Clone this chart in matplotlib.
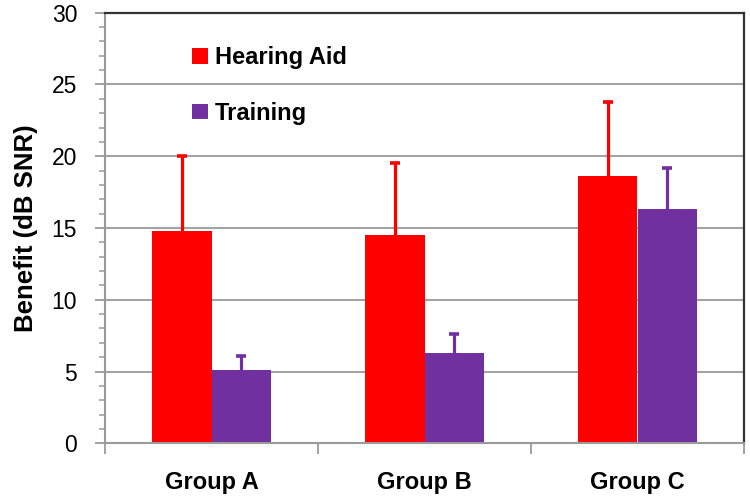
import matplotlib
matplotlib.use("Agg")
import matplotlib.pyplot as plt
import numpy as np
from matplotlib.patches import Patch
from matplotlib.ticker import MultipleLocator, FixedLocator

plt.rcParams['font.family'] = ['Liberation Sans', 'DejaVu Sans']

groups = ["Group A", "Group B", "Group C"]
series_names = ["Hearing Aid", "Training"]
hearing_aid = [14.8, 14.5, 18.6]
hearing_aid_err = [5.2, 5.0, 5.2]
training = [5.1, 6.3, 16.3]
training_err = [1.0, 1.3, 2.9]
colors = ["#FF0000", "#7030A0"]

fig = plt.figure(figsize=(7.5, 4.99), dpi=100)
ax = fig.add_axes([0.14, 0.1116, 0.852, 0.8630])

x = np.arange(len(groups))
w = 0.28
for i, (vals, errs) in enumerate([(hearing_aid, hearing_aid_err), (training, training_err)]):
    pos = x + (i - 0.5) * w
    vals = np.asarray(vals)
    errs = np.asarray(errs)
    ax.bar(pos, vals, width=w, color=colors[i], zorder=2)
    # one-sided (upper) error bars
    ax.errorbar(pos, vals, yerr=[np.zeros(len(errs)), errs], fmt='none',
                ecolor=colors[i], elinewidth=2.3, capsize=0, zorder=3)
    ax.plot(pos, vals + errs, linestyle='none', marker='_', markersize=7,
            markeredgewidth=2.6, color=colors[i], zorder=3)

ax.set_xlim(-0.5, len(groups) - 0.5)
ax.set_ylim(0, 30)
ax.yaxis.set_major_locator(MultipleLocator(5))
ax.yaxis.set_minor_locator(MultipleLocator(1))
ax.grid(axis='y', which='major', color='#9a9a9a', linewidth=1.3, zorder=0)
ax.set_axisbelow(True)

# category boundaries as major ticks, labels at centers as minor ticks
ax.xaxis.set_major_locator(FixedLocator(np.arange(-0.5, len(groups), 1.0)))
ax.xaxis.set_major_formatter(plt.NullFormatter())
ax.xaxis.set_minor_locator(FixedLocator(x))
ax.set_xticklabels(groups, minor=True, fontsize=17, fontweight='bold')
ax.tick_params(axis='x', which='major', length=8, width=1.3, color='#9a9a9a', direction='out')
ax.tick_params(axis='x', which='minor', length=0, pad=20)

ax.tick_params(axis='y', which='major', length=7, width=1.3, color='#9a9a9a', labelsize=16.5, pad=13)
ax.tick_params(axis='y', which='minor', length=4, width=1.1, color='#9a9a9a')

for s in ['left', 'bottom']:
    ax.spines[s].set_color('#9a9a9a')
    ax.spines[s].set_linewidth(1.5)
for s in ['top', 'right']:
    ax.spines[s].set_color('#333333')
    ax.spines[s].set_linewidth(1.6)

ax.set_ylabel("Benefit (dB SNR)", fontsize=18.5, fontweight='bold', labelpad=10)

handles = [Patch(facecolor=c, edgecolor='none') for c in colors]
ax.legend(handles, series_names, loc='upper left', bbox_to_anchor=(0.136, 0.922),
          frameon=False, prop={'size': 17, 'weight': 'bold'}, handlelength=0.68,
          handleheight=0.65, handletextpad=0.28, labelspacing=1.38, borderpad=0,
          borderaxespad=0)

fig.savefig("out.png", dpi=100)
